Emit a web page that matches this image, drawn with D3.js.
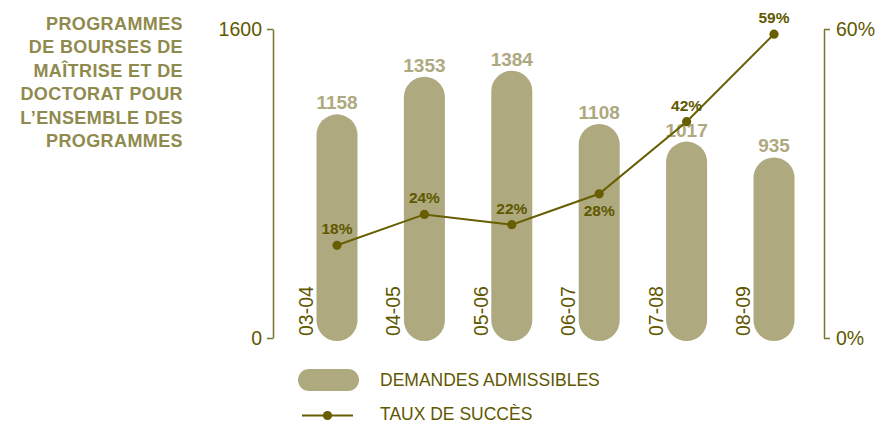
<!DOCTYPE html>
<html><head><meta charset="utf-8">
<script src="https://cdn.jsdelivr.net/npm/d3@7"></script>
<style>
html,body{margin:0;padding:0;background:#fff;}
svg{display:block;font-family:"Liberation Sans",Arial,Helvetica,sans-serif;}
</style></head>
<body><svg id="c" width="884" height="423"></svg>
<script>
const years = ["03-04","04-05","05-06","06-07","07-08","08-09"];
const demandes = [1158,1353,1384,1108,1017,935];
const taux = [18,24,22,28,42,59];
const tauxLabels = ["18%","24%","22%","28%","42%","59%"];
const leftTicks = [0,1600];
const rightTicks = [0,60];
const titleLines = ["PROGRAMMES","DE BOURSES DE","MAÎTRISE ET DE","DOCTORAT POUR","L\u2019ENSEMBLE DES","PROGRAMMES"];
const legendLabels = ["DEMANDES ADMISSIBLES","TAUX DE SUCCÈS"];

const C = {bar:"#aea97f", dark:"#5f5800", line:"#665e00", axis:"#7a7330", title:"#8f8a4e"};
const svg = d3.select("#c");

const x = d3.scalePoint().domain(years).range([337, 774]);
const yL = d3.scaleLinear().domain([0,1600]).range([338,29]);
const yR = d3.scaleLinear().domain([0,60]).range([338,29]);
const barW = 41, barBottom = yL(0) + 3;

// title
const t = svg.append("text").attr("text-anchor","end").attr("fill",C.title)
  .attr("font-weight","bold").attr("font-size",18).attr("letter-spacing",0.4);
titleLines.forEach((l,i)=>t.append("tspan").attr("x",183).attr("y",29.5+i*23.5).text(l));

// axes
const axL = svg.append("g").attr("transform","translate(273,0)")
  .call(d3.axisLeft(yL).tickValues(leftTicks).tickFormat(d3.format("d")).tickSize(6).tickSizeOuter(0).tickPadding(5));
const axR = svg.append("g").attr("transform","translate(824,0)")
  .call(d3.axisRight(yR).tickValues(rightTicks).tickFormat(d=>d+"%").tickSize(6).tickSizeOuter(0).tickPadding(6));
[axL,axR].forEach(a=>{
  a.select(".domain").attr("stroke",C.axis).attr("stroke-width",1.5);
  a.selectAll(".tick line").attr("stroke",C.axis).attr("stroke-width",1.5);
  a.selectAll(".tick text").attr("fill",C.dark).attr("font-size",19.5)
   .attr("font-family","Liberation Sans, Arial, sans-serif");
});

// bars
svg.append("g").selectAll("rect").data(demandes).join("rect")
  .attr("x",(d,i)=>x(years[i])-barW/2).attr("width",barW)
  .attr("y",d=>yL(d)).attr("height",d=>barBottom-yL(d))
  .attr("rx",barW/2).attr("ry",barW/2).attr("fill",C.bar);

// bar value labels
svg.append("g").selectAll("text").data(demandes).join("text")
  .attr("x",(d,i)=>x(years[i])).attr("y",d=>yL(d)-5)
  .attr("text-anchor","middle").attr("font-weight","bold").attr("font-size",19)
  .attr("fill",C.bar).text(d=>d);

// category labels (rotated)
svg.append("g").selectAll("text").data(years).join("text")
  .attr("transform",d=>`translate(${x(d)-24},336) rotate(-90)`)
  .attr("text-anchor","start").attr("font-size",19.5).attr("fill",C.dark).text(d=>d);

// line
const line = d3.line().x((d,i)=>x(years[i])).y(d=>yR(d));
svg.append("path").datum(taux).attr("d",line).attr("fill","none")
  .attr("stroke",C.line).attr("stroke-width",2);
svg.append("g").selectAll("circle").data(taux).join("circle")
  .attr("cx",(d,i)=>x(years[i])).attr("cy",d=>yR(d)).attr("r",4.6).attr("fill",C.line);
svg.append("g").selectAll("text").data(taux).join("text")
  .attr("x",(d,i)=>x(years[i])).attr("y",(d,i)=> i===3 ? yR(d)+22 : yR(d)-11)
  .attr("text-anchor","middle").attr("font-weight","bold").attr("font-size",15.5)
  .attr("fill",C.dark).text((d,i)=>tauxLabels[i]);

// legend
const lg = svg.append("g");
lg.append("rect").attr("x",298).attr("y",369).attr("width",61).attr("height",22)
  .attr("rx",11).attr("fill",C.bar);
lg.append("text").attr("x",380).attr("y",386).attr("font-size",17.5).attr("fill",C.dark).text(legendLabels[0]);
lg.append("line").attr("x1",302).attr("x2",353).attr("y1",415.5).attr("y2",415.5)
  .attr("stroke",C.line).attr("stroke-width",2);
lg.append("circle").attr("cx",327.5).attr("cy",415.5).attr("r",4.6).attr("fill",C.line);
lg.append("text").attr("x",380).attr("y",419.5).attr("font-size",17.5).attr("fill",C.dark).text(legendLabels[1]);
</script></body></html>
